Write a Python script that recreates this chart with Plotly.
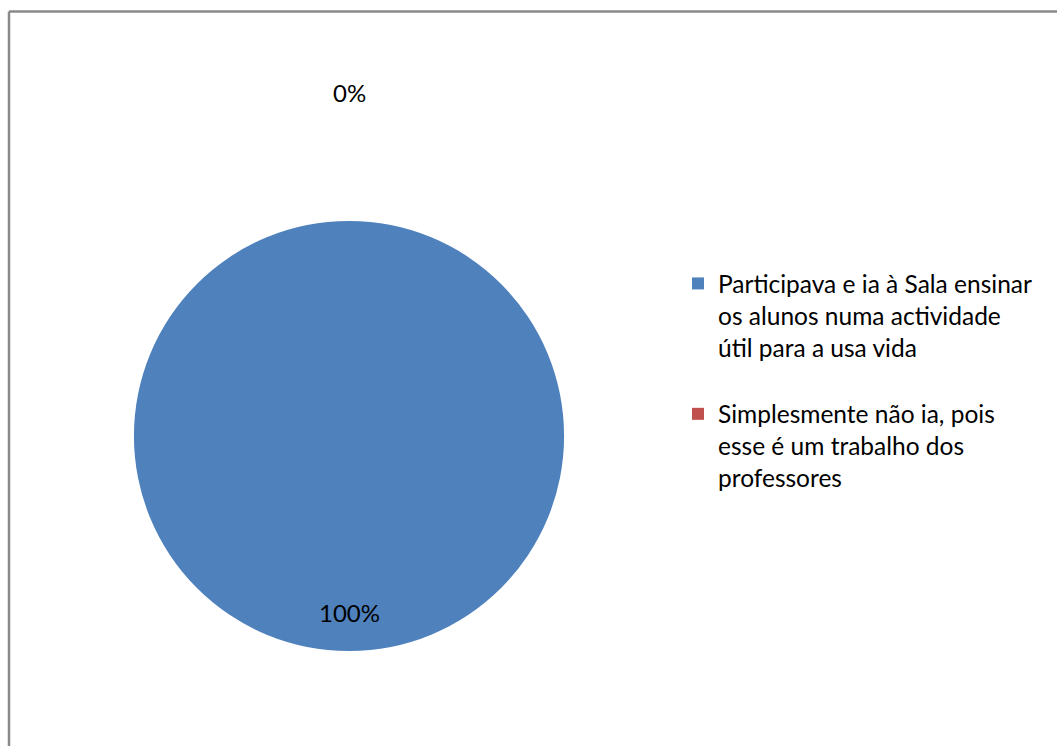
import plotly.graph_objects as go

# Survey answers and their shares
labels = [
    "Participava e ia à Sala ensinar<br>os alunos numa actividade<br>útil para a usa vida<br> ",
    "Simplesmente não ia, pois<br>esse é um trabalho dos<br>professores",
]
values = [100, 0]
colors = ["#4F81BD", "#C0504D"]

W, H = 1057, 746
FONT = "Lato, Carlito, Calibri, sans-serif"

# pie geometry in pixels
cx, cy, r = 349, 436, 215

fig = go.Figure(
    go.Pie(
        labels=labels,
        values=values,
        marker=dict(colors=colors, line=dict(width=0)),
        sort=False,
        direction="clockwise",
        rotation=0,
        textinfo="none",
        hoverinfo="percent",
        domain=dict(
            x=[(cx - r) / W, (cx + r) / W],
            y=[1 - (cy + r) / H, 1 - (cy - r) / H],
        ),
    )
)

# percentage labels derived from the values
total = sum(values)
pct = [f"{round(v * 100 / total)}%" for v in values]
label_pos = [(349, 612), (349, 93)]
for text, (px, py) in zip(pct, label_pos):
    fig.add_annotation(
        x=px / W, y=1 - py / H, xref="paper", yref="paper",
        text=text, showarrow=False,
        font=dict(family=FONT, size=24, color="#000000"),
        xanchor="center", yanchor="middle",
    )

# chart area frame (top and left edges)
fig.add_shape(type="line", xref="paper", yref="paper",
              x0=9 / W, x1=9 / W, y0=0, y1=1 - 11.5 / H,
              line=dict(color="#8a8a8a", width=2.5))
fig.add_shape(type="line", xref="paper", yref="paper",
              x0=9 / W, x1=1, y0=1 - 11.5 / H, y1=1 - 11.5 / H,
              line=dict(color="#8a8a8a", width=2.5))

fig.update_layout(
    width=W, height=H,
    margin=dict(l=0, r=0, t=0, b=0),
    paper_bgcolor="white",
    plot_bgcolor="white",
    font=dict(family=FONT, size=24, color="#000000"),
    legend=dict(
        x=678 / W, y=1 - 261 / H,
        xanchor="left", yanchor="top",
        valign="top",
        font=dict(family=FONT, size=24.5, color="#000000"),
        bgcolor="rgba(0,0,0,0)",
        tracegroupgap=0,
    ),
    showlegend=True,
)

fig.write_html("out.html")
